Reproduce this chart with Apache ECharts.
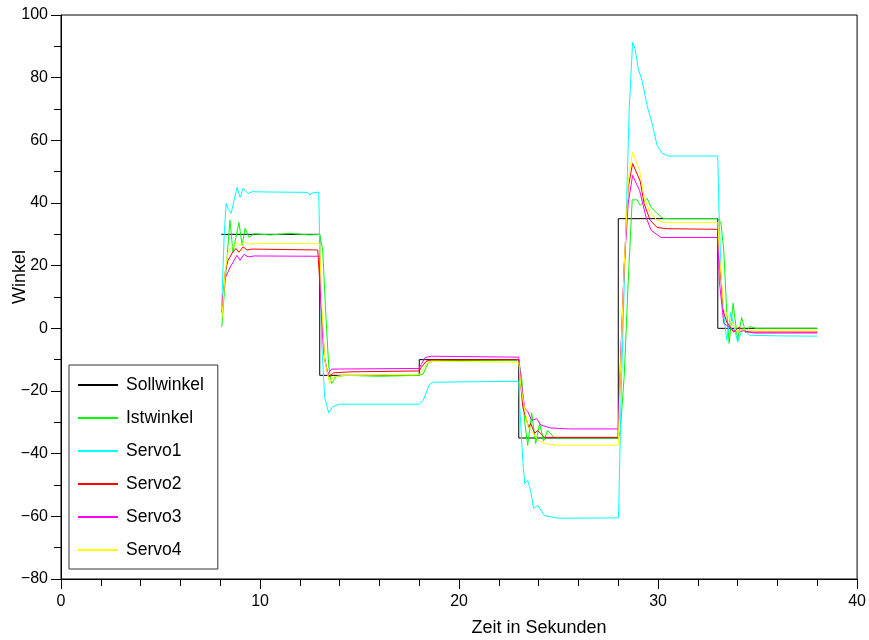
<!DOCTYPE html>
<html>
<head>
<meta charset="utf-8">
<script src="https://cdn.jsdelivr.net/npm/echarts@6/dist/echarts.min.js"></script>
<style>
  html, body { margin: 0; padding: 0; background: #fff; }
  #chart { width: 869px; height: 640px; }
</style>
</head>
<body>
<div id="chart"></div>
<script>
// Angle traces over time: [Zeit (s), Winkel]
const sollwinkel = [
  [8.05, 30], [13, 30], [13, -15], [18, -15], [18, -10], [23, -10],
  [23, -35], [28, -35], [28, 35], [33, 35], [33, 0], [38, 0]
];

const istwinkel = [
  [8.08, 0.5], [8.25, 15], [8.49, 34.5], [8.64, 24.3], [8.94, 33.8], [9.1, 26.5],
  [9.25, 31.9], [9.45, 29], [9.7, 30.2], [10.5, 29.8], [11.5, 30.3], [12.5, 29.8],
  [13.0, 30], [13.15, 25], [13.3, 5], [13.45, -12], [13.6, -17.6], [13.8, -15.5],
  [14.3, -15], [16, -15.3], [18.0, -15], [18.2, -14.5], [18.45, -11], [18.7, -10.3],
  [23.0, -10.2], [23.15, -16], [23.3, -30], [23.45, -37.3], [23.65, -27], [23.85, -36.8],
  [24.05, -30.3], [24.25, -36], [24.45, -32.6], [24.8, -35], [28.0, -35], [28.1, -33],
  [28.3, -15], [28.5, 15], [28.7, 41], [28.95, 41], [29.1, 39.3], [29.45, 41.5],
  [29.65, 38.6], [29.95, 36.7], [30.25, 35.1], [30.6, 35], [33.0, 35], [33.15, 34],
  [33.3, 25], [33.45, 5], [33.57, -4.8], [33.77, 8], [34.0, -3.8], [34.2, 3.5],
  [34.4, -1.5], [34.6, 0.6], [34.9, 0], [38, 0]
];

const servo1 = [
  [8.08, 8], [8.2, 30], [8.3, 39.9], [8.4, 38], [8.55, 36.7], [8.7, 41], [8.85, 45],
  [9.0, 41.8], [9.15, 44.7], [9.4, 43], [9.6, 43.6], [10.5, 43.5], [12.4, 43.4],
  [12.5, 42.5], [12.6, 43.2], [12.95, 43.5], [13.02, 20], [13.1, -5], [13.25, -22],
  [13.45, -27], [13.65, -25], [14.0, -24.2], [18.0, -24.2], [18.2, -23], [18.5, -18],
  [18.7, -17.2], [23.0, -16.9], [23.05, -25], [23.2, -42], [23.3, -49.5], [23.45, -48.5],
  [23.6, -52], [23.75, -57.5], [23.95, -56.5], [24.3, -59.8], [25, -60.6], [28.0, -60.5],
  [28.02, -58], [28.15, -20], [28.35, 25], [28.55, 70], [28.72, 91.3], [28.85, 89],
  [29.0, 83], [29.2, 79], [29.45, 71], [29.7, 65.4], [29.95, 58.4], [30.2, 56],
  [30.5, 55], [33.0, 55], [33.05, 40], [33.2, 10], [33.45, -3.8], [33.65, 5],
  [34.0, -4.4], [34.25, 0], [34.6, -2.2], [36, -2.4], [38, -2.5]
];

const servo2 = [
  [8.08, 5], [8.25, 18], [8.39, 21.7], [8.6, 24], [8.79, 25.5], [8.94, 24.3],
  [9.15, 26], [9.35, 25], [9.6, 25.3], [12.9, 25], [13.0, 25.2], [13.1, 5],
  [13.25, -10], [13.45, -15.6], [13.7, -14.2], [14.5, -13.9], [18.0, -13.6],
  [18.1, -12.5], [18.35, -10.5], [18.6, -10.1], [23.0, -10], [23.1, -18], [23.2, -25],
  [23.35, -28.4], [23.5, -31.6], [23.6, -30.3], [23.8, -33.5], [23.95, -32.6],
  [24.3, -34.8], [28.0, -34.8], [28.1, -15], [28.3, 20], [28.5, 45], [28.72, 52.6],
  [29.1, 47], [29.3, 39.8], [29.6, 34.5], [29.95, 32.2], [30.4, 31.8], [33.0, 31.6],
  [33.1, 20], [33.3, 5], [33.45, 2], [33.8, -1.2], [34.05, 0.3], [34.5, -1.2], [38, -1.2]
];

const servo3 = [
  [8.08, 7], [8.25, 16], [8.5, 19.5], [8.84, 23.3], [8.99, 21.7], [9.2, 23.6],
  [9.4, 22.8], [9.7, 23.1], [13.0, 23], [13.08, 5], [13.2, -8], [13.4, -14.5],
  [13.6, -13], [18.0, -12.8], [18.1, -11.5], [18.3, -9.3], [18.6, -8.9], [23.0, -9.2],
  [23.1, -16], [23.3, -25.5], [23.45, -26.5], [23.65, -29.4], [23.9, -28.8],
  [24.1, -30.8], [24.6, -31.8], [25.5, -32.1], [28.0, -32.1], [28.1, -12], [28.3, 20],
  [28.5, 40], [28.72, 48.8], [29.07, 44], [29.4, 35.4], [29.65, 31.3], [30.15, 29],
  [33.0, 29], [33.08, 15], [33.3, 1.6], [33.55, 0.5], [33.9, -1], [34.3, -0.8],
  [34.8, -1.5], [38, -1.5]
];

const servo4 = [
  [8.08, 3], [8.25, 18], [8.39, 24.3], [8.6, 26], [8.84, 27.5], [8.99, 26.5],
  [9.2, 27.6], [9.45, 26.9], [9.8, 27.1], [13.0, 27], [13.1, 8], [13.25, -10],
  [13.5, -17.6], [13.7, -15.5], [14.2, -15], [18.0, -14.8], [18.15, -13.5], [18.4, -11],
  [18.7, -10.5], [23.0, -10.8], [23.1, -18], [23.3, -26], [23.47, -31.6], [23.72, -33.5],
  [23.97, -35.7], [24.3, -36.8], [25, -37.3], [28.0, -37.3], [28.1, -15], [28.3, 20],
  [28.5, 47], [28.72, 56.2], [29.07, 50.4], [29.3, 41.8], [29.6, 37], [29.95, 34.5],
  [30.3, 33.8], [33.0, 33.8], [33.1, 22], [33.3, 6], [33.6, 3.2], [33.97, -1.2],
  [34.2, -0.4], [34.5, -0.6], [38, -0.6]
];

const seriesNames = ['Sollwinkel', 'Istwinkel', 'Servo1', 'Servo2', 'Servo3', 'Servo4'];
const seriesData = [sollwinkel, istwinkel, servo1, servo2, servo3, servo4];
const seriesColors = ['#000000', '#00ff00', '#00ffff', '#ff0000', '#ff00ff', '#ffff00'];

const FONT = 'Liberation Sans, Arial, Helvetica, sans-serif';

const chart = echarts.init(document.getElementById('chart'), null, { renderer: 'canvas' });

const axisCommon = {
  axisLine: { show: true, onZero: false, lineStyle: { color: '#000', width: 1 } },
  axisTick: { show: true, inside: false, length: 10, lineStyle: { color: '#000', width: 1 } },
  minorTick: { show: true, length: 7, lineStyle: { color: '#000', width: 1 } },
  splitLine: { show: false },
  axisLabel: { color: '#000', fontSize: 16, fontFamily: FONT }
};

chart.setOption({
  animation: false,
  backgroundColor: '#ffffff',
  grid: {
    left: 61, right: 11, top: 15, bottom: 61,
    show: true, borderColor: '#000', borderWidth: 1, backgroundColor: 'transparent'
  },
  xAxis: Object.assign({}, axisCommon, {
    type: 'value', min: 0, max: 40, interval: 10,
    minorTick: Object.assign({}, axisCommon.minorTick, { splitNumber: 5 }),
    axisLabel: Object.assign({}, axisCommon.axisLabel, { margin: 15 })
  }),
  yAxis: Object.assign({}, axisCommon, {
    type: 'value', min: -80, max: 100, interval: 20,
    minorTick: Object.assign({}, axisCommon.minorTick, { splitNumber: 2 }),
    axisLabel: Object.assign({}, axisCommon.axisLabel, {
      margin: 13,
      formatter: v => (v < 0 ? '\u2212' + Math.abs(v) : String(v))
    })
  }),
  legend: {
    orient: 'vertical',
    left: 69, top: 365,
    data: seriesNames,
    itemWidth: 40, itemHeight: 2, itemGap: 13,
    padding: [10, 14, 9, 8],
    borderColor: '#333', borderWidth: 1,
    backgroundColor: '#fff',
    textStyle: { color: '#000', fontSize: 17.5, fontFamily: FONT, lineHeight: 20,
                 padding: [0, 0, 0, 3] },
    selectedMode: false
  },
  graphic: [
    {
      type: 'text',
      x: 539, y: 628,
      style: { text: 'Zeit in Sekunden', fontSize: 18, fontFamily: FONT, fill: '#000',
               align: 'center', verticalAlign: 'middle' }
    },
    {
      type: 'text',
      x: 20, y: 277, rotation: Math.PI / 2,
      style: { text: 'Winkel', fontSize: 18, fontFamily: FONT, fill: '#000',
               align: 'center', verticalAlign: 'middle' }
    }
  ],
  series: seriesNames.map((name, i) => ({
    name: name,
    type: 'line',
    data: seriesData[i],
    symbol: 'none',
    showSymbol: false,
    smooth: false,
    lineStyle: { color: seriesColors[i], width: 1 },
    itemStyle: { color: seriesColors[i] },
    z: 2 + i
  }))
});
</script>
</body>
</html>
